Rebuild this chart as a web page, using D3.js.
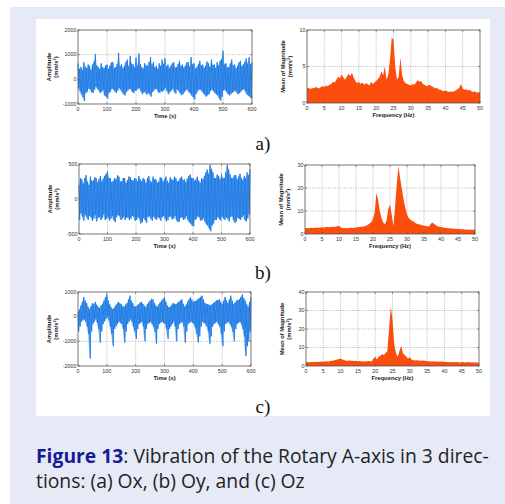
<!DOCTYPE html>
<html><head><meta charset="utf-8">
<script src="https://cdn.jsdelivr.net/npm/d3@7"></script>
<style>body{margin:0;background:#fff}svg{display:block}</style>
</head><body>
<svg id="c" width="505" height="504"></svg>
<script>
// ---------- DATA ----------
const timeStep = 5; // s
// time-domain envelopes (mm/s^2), one value every 5 s from 0 to 600 s
const oxHigh = [650,420,500,380,700,520,450,600,550,380,600,720,1030,560,500,420,650,480,450,560,600,420,550,680,700,460,500,620,1070,540,600,450,550,700,800,520,950,640,600,480,880,560,1050,620,500,430,650,560,550,700,900,600,700,480,550,420,650,540,800,610,850,520,600,460,550,640,700,480,500,620,750,540,600,470,550,680,700,520,900,600,650,430,500,610,750,560,600,470,550,720,650,500,800,580,600,460,700,560,750,820,1160,600,650,480,500,640,800,560,600,450,550,680,750,520,600,700,850,640,900,600,700];
const oxLow  = [-350,-480,-600,-720,-880,-560,-500,-380,-400,-520,-550,-420,-300,-380,-450,-560,-500,-420,-650,-700,-780,-560,-500,-380,-400,-480,-550,-460,-350,-420,-500,-600,-650,-520,-450,-380,-400,-500,-550,-460,-450,-380,-350,-480,-600,-540,-500,-620,-550,-600,-700,-520,-450,-380,-400,-520,-550,-470,-500,-420,-350,-480,-600,-520,-450,-380,-500,-580,-400,-460,-550,-640,-600,-520,-450,-400,-500,-560,-650,-720,-820,-600,-500,-430,-400,-480,-550,-620,-700,-650,-600,-480,-400,-470,-550,-600,-650,-760,-870,-700,-450,-420,-500,-580,-650,-600,-550,-500,-450,-520,-600,-560,-500,-430,-400,-480,-600,-650,-700,-760,-820];
const oyHigh = [200,300,280,220,300,340,250,200,320,260,260,310,300,240,280,330,250,290,330,360,400,300,300,240,260,300,280,340,320,250,250,300,300,230,270,320,310,270,260,300,290,250,330,280,250,300,280,230,300,330,260,240,320,280,280,230,250,310,300,250,280,320,260,230,310,280,270,320,300,250,260,300,320,270,280,240,290,330,350,300,300,260,280,320,260,230,300,280,330,380,420,360,490,430,380,300,300,350,330,280,360,300,300,380,490,420,350,300,300,340,340,280,320,360,300,270,330,300,380,340,430];
const oyLow  = [-300,-200,-250,-310,-220,-260,-300,-240,-260,-310,-280,-230,-320,-270,-250,-300,-270,-220,-300,-280,-250,-310,-280,-240,-300,-330,-260,-230,-240,-300,-280,-250,-300,-270,-260,-300,-280,-240,-250,-310,-300,-260,-280,-350,-330,-270,-300,-340,-260,-240,-280,-310,-250,-280,-300,-260,-270,-310,-260,-240,-280,-320,-300,-250,-250,-290,-280,-240,-300,-330,-320,-270,-260,-300,-280,-240,-300,-330,-350,-380,-390,-300,-280,-250,-260,-310,-300,-270,-320,-360,-380,-420,-460,-380,-350,-300,-300,-260,-280,-310,-250,-280,-300,-260,-280,-320,-260,-240,-300,-340,-320,-270,-280,-300,-260,-230,-300,-320,-280,-220,-150];
const ozHigh = [200,300,450,600,800,650,550,400,300,420,550,500,600,480,400,350,450,520,650,780,900,650,500,380,300,360,450,520,600,540,500,420,400,480,550,700,850,650,550,430,400,450,500,560,600,520,450,380,500,580,650,720,700,550,450,400,500,580,650,720,800,600,450,380,400,480,550,520,500,560,600,650,700,520,400,480,600,700,800,680,600,620,650,700,750,800,850,700,550,520,500,480,450,500,550,600,650,680,700,600,500,650,800,650,550,700,850,650,500,580,650,680,700,800,900,750,650,500,400,600,800];
const ozLow  = [-600,-400,-200,-150,-100,-200,-400,-700,-1700,-600,-300,-200,-100,-250,-500,-1050,-600,-300,-200,-100,0,-150,-400,-700,-1200,-500,-400,-300,-200,-250,-300,-500,-1050,-600,-300,-200,-100,-200,-400,-600,-900,-500,-300,-250,-200,-400,-1000,-500,-300,-250,-200,-300,-400,-600,-1100,-500,-300,-250,-200,-250,-300,-500,-900,-500,-400,-300,-200,-400,-1000,-500,-300,-250,-200,-400,-1050,-600,-300,-250,-200,-250,-300,-450,-700,-1050,-800,-400,-200,-250,-300,-400,-600,-1100,-800,-400,-300,-250,-200,-300,-400,-700,-1200,-600,-300,-250,-200,-300,-400,-600,-1000,-500,-300,-250,-200,-300,-500,-800,-1600,-1200,-1000,-600,-300];

// mean spectrum magnitude (mm/s^2), one value every 0.5 Hz from 0 to 50 Hz
const freqStep = 0.5;
const oxSpec = [2.0,2.1,1.9,2.1,2.0,2.2,2.1,2.0,2.2,2.3,2.2,2.4,2.3,2.5,2.6,2.9,2.8,3.2,3.6,3.4,3.9,3.5,3.2,3.6,4.0,3.7,4.1,3.5,3.0,2.7,2.9,2.6,2.8,2.5,2.7,2.6,2.4,2.9,2.6,2.8,3.0,3.3,3.6,4.3,3.8,5.0,3.2,3.9,6.0,9.0,8.6,5.0,3.2,3.6,6.2,3.8,3.0,2.7,2.6,2.5,2.4,2.6,2.5,2.8,3.1,2.9,3.0,2.6,2.5,2.3,2.4,2.5,2.3,2.2,2.0,2.1,1.9,1.8,1.7,1.6,1.7,1.6,1.5,1.6,1.5,1.6,1.7,1.9,2.1,2.6,2.0,1.8,1.9,1.7,1.8,1.6,1.5,1.6,1.4,1.5,1.4];
const oySpec = [2.5,2.6,2.5,2.6,2.7,2.6,2.7,2.8,2.7,2.8,2.9,2.8,2.9,3.0,2.9,3.0,3.1,3.0,3.2,3.4,3.5,2.9,2.6,2.5,2.6,2.5,2.6,2.7,2.6,2.7,2.8,2.9,3.0,3.1,3.2,3.4,3.6,4.0,4.6,5.2,6.5,9.5,17.8,15.0,10.0,7.0,5.0,4.2,6.0,11.0,12.7,8.5,3.5,12.0,22.0,29.5,24.0,19.5,15.0,11.5,8.5,7.0,6.2,5.8,5.3,4.8,4.4,4.2,4.0,3.8,3.6,3.5,3.4,3.3,4.5,5.0,4.3,3.8,3.4,3.1,3.0,2.8,2.7,2.6,2.5,2.5,2.4,2.4,2.3,2.3,2.2,2.2,2.1,2.1,2.0,2.0,1.9,2.0,1.9,1.9,1.8];
const ozSpec = [2.0,2.1,2.0,2.2,2.1,2.2,2.3,2.2,2.3,2.4,2.3,2.5,2.6,2.5,2.7,2.8,3.0,3.2,3.5,3.8,4.0,3.5,3.2,2.9,2.8,3.0,2.8,2.9,2.7,2.8,2.6,2.7,2.6,2.5,2.6,2.5,2.7,2.6,2.5,4.0,5.0,3.5,5.0,5.5,6.5,6.0,7.0,8.0,20.0,32.0,25.0,12.0,7.0,5.0,8.0,11.0,7.0,6.0,5.0,4.0,4.7,3.5,3.2,3.0,3.1,3.0,2.9,3.0,2.8,2.9,2.7,2.6,2.5,2.6,2.5,2.4,2.5,2.3,2.4,2.3,2.2,2.1,2.2,2.1,2.0,2.1,2.0,2.1,2.0,1.9,2.0,2.1,1.9,2.0,2.1,1.9,2.0,1.9,2.0,1.8,1.9];

const timeTicks = [0,100,200,300,400,500,600];
const freqTicks = [0,5,10,15,20,25,30,35,40,45,50];
const panelLabels = ["a)","b)","c)"];
const captionBold = "Figure 13";
const captionLine1 = ": Vibration of the Rotary A-axis in 3 direc-";
const captionLine2 = "tions: (a) Ox, (b) Oy, and (c) Oz";

// ---------- LAYOUT ----------
const svg = d3.select("#c");
svg.append("rect").attr("x",10).attr("y",7).attr("width",495).attr("height",497).attr("fill","#e6eaf6");
svg.append("rect").attr("x",36).attr("y",19).attr("width",454).attr("height",397).attr("fill","#ffffff");

const rows = [
  {ts:{x0:78,x1:252,y0:30,y1:104}, tsDom:[-1000,2000], tsTicks:[-1000,0,1000,2000], hi:oxHigh, lo:oxLow,
   sp:{x0:307,x1:480,y0:30,y1:103}, spDom:[0,10], spTicks:[0,5,10], spec:oxSpec, lab:{x:263,y:150}},
  {ts:{x0:79,x1:250,y0:164,y1:234}, tsDom:[-500,500], tsTicks:[-500,0,500], hi:oyHigh, lo:oyLow,
   sp:{x0:305,x1:475,y0:165,y1:234}, spDom:[0,30], spTicks:[0,10,20,30], spec:oySpec, lab:{x:263,y:279}},
  {ts:{x0:78,x1:251,y0:292,y1:366}, tsDom:[-2000,1000], tsTicks:[-2000,-1000,0,1000], hi:ozHigh, lo:ozLow,
   sp:{x0:306,x1:479,y0:292,y1:366}, spDom:[0,40], spTicks:[0,10,20,30,40], spec:ozSpec, lab:{x:263,y:413}}
];

function frame(g, b, x, y, xt, yt){
  g.append("g").selectAll("line").data(xt.filter(v=>v!==xt[0] && v!==xt[xt.length-1])).join("line")
    .attr("x1",d=>x(d)).attr("x2",d=>x(d)).attr("y1",b.y0).attr("y2",b.y1)
    .attr("stroke","#8a8a8a").attr("stroke-width",0.6).attr("stroke-dasharray","1,1.3");
  g.append("g").selectAll("line").data(yt.filter(v=>v!==yt[0] && v!==yt[yt.length-1])).join("line")
    .attr("x1",b.x0).attr("x2",b.x1).attr("y1",d=>y(d)).attr("y2",d=>y(d))
    .attr("stroke","#8a8a8a").attr("stroke-width",0.6).attr("stroke-dasharray","1,1.3");
}
function axesBox(g, b, x, y, xt, yt, xlab, ylab){
  g.append("rect").attr("x",b.x0).attr("y",b.y0).attr("width",b.x1-b.x0).attr("height",b.y1-b.y0)
    .attr("fill","none").attr("stroke","#555").attr("stroke-width",0.8);
  const tk = g.append("g").attr("stroke","#555").attr("stroke-width",0.6);
  xt.forEach(v=>{
    tk.append("line").attr("x1",x(v)).attr("x2",x(v)).attr("y1",b.y1).attr("y2",b.y1-2);
    tk.append("line").attr("x1",x(v)).attr("x2",x(v)).attr("y1",b.y0).attr("y2",b.y0+2);
  });
  yt.forEach(v=>{
    tk.append("line").attr("x1",b.x0).attr("x2",b.x0+2).attr("y1",y(v)).attr("y2",y(v));
    tk.append("line").attr("x1",b.x1).attr("x2",b.x1-2).attr("y1",y(v)).attr("y2",y(v));
  });
  const tf = "'Liberation Sans', Arial, sans-serif";
  g.append("g").selectAll("text").data(xt).join("text")
    .attr("x",d=>x(d)).attr("y",b.y1+6.5).attr("text-anchor","middle")
    .attr("font-family",tf).attr("font-size",5.4).attr("fill","#333").text(d=>d);
  g.append("g").selectAll("text").data(yt).join("text")
    .attr("x",b.x0-1.5).attr("y",d=>y(d)+1.8).attr("text-anchor","end")
    .attr("font-family",tf).attr("font-size",5.4).attr("fill","#333").text(d=>d);
  g.append("text").attr("x",(b.x0+b.x1)/2).attr("y",b.y1+14).attr("text-anchor","middle")
    .attr("font-family",tf).attr("font-weight","bold").attr("font-size",5.8).attr("fill","#222").text(xlab);
  const cy=(b.y0+b.y1)/2;
  const lx = b.x0 - ylab.off;
  const t1 = g.append("text").attr("transform",`translate(${lx},${cy}) rotate(-90)`).attr("text-anchor","middle")
    .attr("font-family",tf).attr("font-weight","bold").attr("font-size",5.8).attr("fill","#222");
  t1.append("tspan").attr("x",0).attr("dy",0).text(ylab.l1);
  const t2 = t1.append("tspan").attr("x",0).attr("dy",7).text("(mm/s");
  t2.append("tspan").attr("dy",-2).attr("font-size",4).text("2");
  t1.append("tspan").attr("dy",2).text(")");
}

rows.forEach((r,ri)=>{
  const b=r.ts, g=svg.append("g");
  const x=d3.scaleLinear().domain([0,600]).range([b.x0,b.x1]);
  const y=d3.scaleLinear().domain(r.tsDom).range([b.y1,b.y0]);
  frame(g,b,x,y,timeTicks,r.tsTicks);
  const pts = r.hi.map((h,i)=>({t:i*timeStep,h,l:r.lo[i]}));
  g.append("path").datum(pts)
    .attr("d",d3.area().x(d=>x(d.t)).y0(d=>y(d.l)).y1(d=>y(d.h)))
    .attr("fill","#7fbdf5");
  const zig=[];
  pts.forEach((d,i)=>{ zig.push([d.t, d.h]); if(i<pts.length-1) zig.push([d.t+timeStep/2, d.l]); });
  g.append("path").datum(zig)
    .attr("d",d3.line().x(d=>x(d[0])).y(d=>y(d[1])))
    .attr("fill","none").attr("stroke","#1a76e3").attr("stroke-width",0.8);
  axesBox(g,b,x,y,timeTicks,r.tsTicks,"Time (s)",{l1:"Amplitude",off:27});

  const s=r.sp, g2=svg.append("g");
  const fx=d3.scaleLinear().domain([0,50]).range([s.x0,s.x1]);
  const fy=d3.scaleLinear().domain(r.spDom).range([s.y1,s.y0]);
  frame(g2,s,fx,fy,freqTicks,r.spTicks);
  g2.append("path").datum(r.spec)
    .attr("d",d3.area().x((d,i)=>fx(i*freqStep)).y0(fy(0)).y1(d=>fy(d)))
    .attr("fill","#fb4d0d");
  axesBox(g2,s,fx,fy,freqTicks,r.spTicks,"Frequency (Hz)",{l1:"Mean of Magnitude",off:22});

  svg.append("text").attr("x",r.lab.x).attr("y",r.lab.y).attr("text-anchor","middle")
    .attr("font-family","'Liberation Serif', 'Times New Roman', serif").attr("font-size",19).attr("fill","#111")
    .text(panelLabels[ri]);
});

// caption
const cf="'Open Sans', 'Noto Sans', sans-serif";
const cap1 = svg.append("text").attr("x",36).attr("y",463).attr("font-family",cf).attr("font-size",17.5).attr("fill","#222");
cap1.append("tspan").attr("font-weight","bold").attr("fill","#1a1a96").text(captionBold);
cap1.append("tspan").text(captionLine1);
const cap2 = svg.append("text").attr("x",36).attr("y",488).attr("font-family",cf).attr("font-size",17.5).attr("fill","#222").text(captionLine2);
const w = cap1.node().getComputedTextLength();
const fs = 17.5 * 453 / w;
cap1.attr("font-size",fs); cap2.attr("font-size",fs);
</script>
</body></html>
